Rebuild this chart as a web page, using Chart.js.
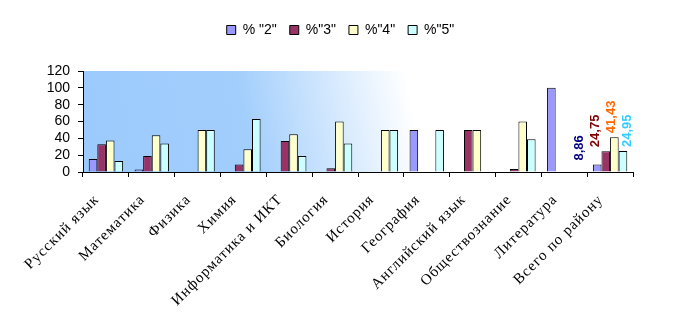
<!DOCTYPE html>
<html lang="ru">
<head>
<meta charset="UTF-8">
<title>Результаты по предметам</title>
<script src="https://cdn.jsdelivr.net/npm/chart.js"></script>
<style>
  body { margin: 0; background: #fff; }
  canvas { display: block; }
</style>
</head>
<body>
<canvas id="chart" width="681" height="326"></canvas>
<script>
// предметы
const subjects = ['Русский язык', 'Математика', 'Физика', 'Химия', 'Информатика и ИКТ', 'Биология',
  'История', 'География', 'Английский язык', 'Обществознание', 'Литература', 'Всего по району'];
// проценты оценок
const grade2 = [15.4, 3, 0, 0, 0, 0, 0, 50, 0, 0, 100, 8.86];
const grade3 = [33, 19, 0, 9, 36.7, 4.6, 0, 0, 50, 3.5, 0, 24.75];
const grade4 = [37.5, 43.6, 50, 27, 44.8, 60, 50, 0, 50, 60, 0, 41.43];
const grade5 = [13, 34, 50, 63, 19, 34, 50, 50, 0, 39, 0, 24.95];
const seriesNames = ['% "2"', '%"3"', '%"4"', '%"5"'];
const yTicks = [0, 20, 40, 60, 80, 100, 120];

const fills = ['#9999FF', '#993366', '#FFFFCC', '#CCFFFF'];
const labelColors = ['#000080', '#800000', '#FF6600', '#33CCFF'];

// фон области построения
const plotBg = {
  id: 'plotBg',
  beforeDraw(chart) {
    const a = chart.chartArea, ctx = chart.ctx;
    const g = ctx.createLinearGradient(a.left, a.bottom, a.right, a.top);
    g.addColorStop(0, 'rgb(155,202,252)');
    g.addColorStop(0.3, 'rgb(162,206,252)');
    g.addColorStop(0.6, '#ffffff');
    g.addColorStop(1, '#ffffff');
    ctx.save();
    ctx.fillStyle = g;
    ctx.fillRect(a.left, a.top, a.right - a.left, a.bottom - a.top);
    ctx.restore();
    // разрядка букв у подписей категорий
    const s = chart.scales.x;
    if (!s._spaced) {
      const orig = s.drawLabels;
      s.drawLabels = function (area) {
        chart.ctx.save();
        chart.ctx.letterSpacing = '1px';
        orig.call(this, area);
        chart.ctx.restore();
      };
      s._spaced = true;
    }
  }
};

// подписи значений у последней группы
const lastLabels = {
  id: 'lastLabels',
  afterDatasetsDraw(chart) {
    const ctx = chart.ctx;
    const idx = subjects.length - 1;
    const bars = chart.data.datasets.map((ds, i) => chart.getDatasetMeta(i).data[idx]);
    const mid = bars.reduce((s, b) => s + b.x, 0) / bars.length;
    ctx.save();
    ctx.font = 'bold 13px "Liberation Sans", Arial, sans-serif';
    ctx.textAlign = 'left';
    ctx.textBaseline = 'middle';
    chart.data.datasets.forEach((ds, i) => {
      const bar = bars[i];
      ctx.save();
      ctx.translate(mid + (i - 2) * 16 + 1, bar.y - 4);
      ctx.rotate(-Math.PI / 2);
      ctx.fillStyle = labelColors[i];
      ctx.fillText(ds.data[idx].toFixed(2).replace('.', ','), 0, 0);
      ctx.restore();
    });
    ctx.restore();
  }
};

// легенда: отступ до графика и центр по всей ширине
const legendGap = {
  id: 'legendGap',
  afterInit(chart) {
    const lg = chart.legend;
    const orig = lg.fit;
    lg.fit = function () {
      orig.call(this);
      this.height += 24;
    };
  },
  afterLayout(chart) {
    const lg = chart.legend;
    lg.left = 0;
    lg.right = chart.width;
    lg.width = chart.width;
  }
};

const allData = [grade2, grade3, grade4, grade5];

new Chart(document.getElementById('chart'), {
  type: 'bar',
  data: {
    labels: subjects,
    datasets: allData.map((d, i) => ({
      label: seriesNames[i],
      data: d,
      backgroundColor: fills[i],
      borderColor: '#000',
      borderWidth: 1,
      categoryPercentage: 0.75,
      barPercentage: 1.0
    }))
  },
  options: {
    responsive: false,
    animation: false,
    layout: { padding: { top: 10, right: 48, left: 0, bottom: 0 } },
    plugins: {
      legend: {
        position: 'top',
        labels: {
          boxWidth: 9,
          boxHeight: 9,
          padding: 13,
          color: '#000',
          font: { family: '"Liberation Sans", Arial, sans-serif', size: 14 }
        }
      },
      tooltip: { enabled: false }
    },
    scales: {
      x: {
        grid: { drawOnChartArea: false, color: '#000', tickLength: 5 },
        border: { color: '#000' },
        ticks: {
          color: '#000',
          maxRotation: 45,
          minRotation: 45,
          autoSkip: false,
          padding: 14,
          labelOffset: -9,
          font: { family: '"Liberation Serif", "Times New Roman", serif', size: 15 }
        },
        afterFit(s) { s.height = 154; }
      },
      y: {
        min: 0,
        max: 120,
        afterBuildTicks(s) { s.ticks = yTicks.map(v => ({ value: v })); },
        grid: { drawOnChartArea: false, color: '#000', tickLength: 5 },
        border: { color: '#000' },
        ticks: {
          color: '#000',
          padding: 8,
          autoSkip: false,
          font: { family: '"Liberation Sans", Arial, sans-serif', size: 14 }
        },
        afterFit(s) { s.width = 83; }
      }
    }
  },
  plugins: [plotBg, lastLabels, legendGap]
});
</script>
</body>
</html>
